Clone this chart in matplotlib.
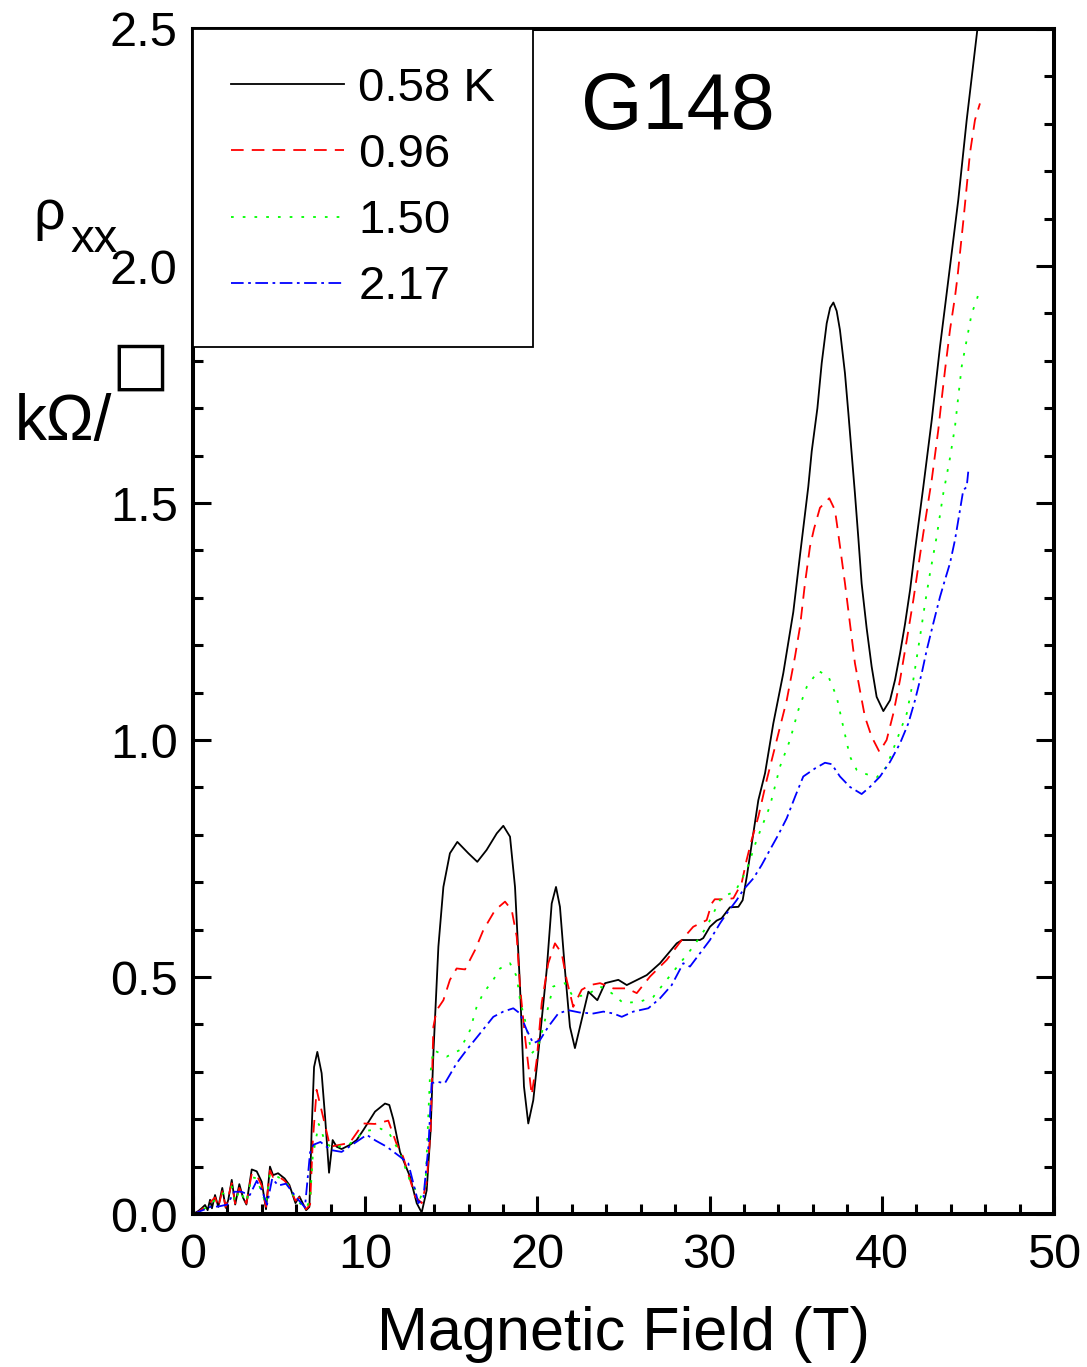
import numpy as np
import matplotlib
matplotlib.use("Agg")
import matplotlib.pyplot as plt

plt.rcParams['font.family'] = ['Liberation Sans', 'DejaVu Sans']

# 0.58 K
t058 = [0.0, 0.3, 0.5, 0.7, 0.85, 0.99, 1.1, 1.28, 1.47, 1.7, 1.9, 2.05, 2.25, 2.45,
        2.69, 2.9, 3.1, 3.41, 3.7, 3.99, 4.24, 4.47, 4.65, 4.94, 5.32, 5.6, 5.95, 6.18,
        6.57, 6.76, 6.89, 7.03, 7.22, 7.47, 7.67, 7.9, 8.11, 8.34, 8.63, 9.12, 9.5, 9.89,
        10.57, 11.15, 11.4, 11.63, 12.02, 12.6, 12.99, 13.28, 13.57, 13.8, 13.96, 14.25,
        14.54, 14.92, 15.35, 15.99, 16.51, 17.05, 17.64, 18.02, 18.41, 18.7, 18.99, 19.22,
        19.47, 19.76, 20.15, 20.54, 20.83, 21.08, 21.31, 21.6, 21.89, 22.18, 22.57, 22.96,
        23.48, 23.93, 24.7, 25.19, 26.35, 27.12, 28.09, 28.4, 29.44, 29.63, 30.02, 30.41,
        30.7, 31.18, 31.67, 31.92, 32.16, 32.54, 32.83, 33.22, 33.7, 34.28, 34.86, 35.25,
        35.73, 35.93, 36.26, 36.51, 36.8, 37.0, 37.19, 37.38, 37.57, 37.86, 38.06, 38.25, 38.44,
        38.64, 38.83, 39.12, 39.41, 39.7, 40.09, 40.48, 40.77, 41.06, 41.35, 41.64, 41.93,
        42.41, 42.9, 43.38, 43.67, 44.44, 44.93, 45.55, 45.65]
r058 = [0.0, 0.006, 0.012, 0.019, 0.008, 0.03, 0.012, 0.04, 0.015, 0.055, 0.013, 0.03, 0.072, 0.02,
        0.063, 0.035, 0.02, 0.094, 0.09, 0.068, 0.01, 0.1, 0.082, 0.086, 0.075, 0.061, 0.023, 0.037,
        0.008, 0.015, 0.177, 0.31, 0.342, 0.297, 0.205, 0.087, 0.156, 0.142, 0.137, 0.146, 0.156, 0.177,
        0.216, 0.233, 0.23, 0.2, 0.131, 0.079, 0.023, 0.003, 0.05, 0.177, 0.339, 0.564,
        0.69, 0.761, 0.785, 0.761, 0.743, 0.768, 0.803, 0.819, 0.796, 0.69, 0.48, 0.269,
        0.191, 0.24, 0.374, 0.515, 0.655, 0.69, 0.648, 0.515, 0.395, 0.35, 0.409, 0.469,
        0.451, 0.487, 0.494, 0.483, 0.504, 0.529, 0.571, 0.578, 0.578, 0.582, 0.606, 0.619,
        0.624, 0.647, 0.648, 0.662, 0.712, 0.803, 0.873, 0.93, 1.035, 1.141, 1.27, 1.39,
        1.534, 1.609, 1.70, 1.795, 1.879, 1.912, 1.923, 1.905, 1.865, 1.774, 1.689, 1.605, 1.52,
        1.425, 1.33, 1.236, 1.155, 1.091, 1.061, 1.084, 1.127, 1.183, 1.245, 1.316, 1.401,
        1.534, 1.675, 1.83, 1.914, 2.139, 2.308, 2.498, 2.53]

# 0.96 K
t096 = [0.0, 0.3, 0.7, 1.0, 1.28, 1.47, 1.7, 1.9, 2.25, 2.45, 2.69, 3.1, 3.41, 3.7, 3.99,
        4.24, 4.47, 4.65, 4.94, 5.32, 5.6, 5.95, 6.18, 6.57, 6.8, 6.95, 7.18, 7.6, 7.96,
        9.1, 9.89, 10.57, 11.34, 11.8, 12.2, 12.9, 13.28, 13.57, 13.8, 13.96, 14.15, 14.54,
        14.92, 15.31, 15.8, 16.38, 16.86, 17.54, 18.12, 18.51, 18.8, 18.99, 19.28, 19.67,
        19.96, 20.25, 20.63, 21.02, 21.41, 21.7, 22.08, 22.57, 23.05, 23.64, 24.41, 25.19,
        25.77, 26.54, 27.51, 28.38, 29.05, 29.83, 30.12, 30.3, 30.89, 31.38, 31.86, 32.15,
        32.44, 32.83, 33.32, 33.9, 34.48, 34.96, 35.25, 35.54, 35.83, 36.06, 36.41, 36.95,
        37.28, 37.47, 37.86, 38.15, 38.44, 38.73, 39.02, 39.41, 39.86, 40.28, 40.67, 41.06,
        41.45, 41.83, 42.12, 42.41, 42.9, 43.28, 43.48, 43.67, 43.96, 44.25, 44.39, 44.74,
        45.12, 45.41, 45.7]
r096 = [0.0, 0.004, 0.015, 0.025, 0.035, 0.015, 0.048, 0.015, 0.065, 0.022, 0.055, 0.022, 0.085, 0.082, 0.06,
        0.015, 0.092, 0.078, 0.08, 0.07, 0.058, 0.028, 0.035, 0.01, 0.02, 0.15, 0.262, 0.198, 0.142,
        0.15, 0.191, 0.19, 0.197, 0.15, 0.121, 0.037, 0.023, 0.068, 0.177, 0.395, 0.43, 0.451,
        0.494, 0.518, 0.516, 0.557, 0.599, 0.641, 0.659, 0.641, 0.585, 0.48, 0.374, 0.251,
        0.325, 0.445, 0.529, 0.571, 0.55, 0.494, 0.437, 0.473, 0.483, 0.487, 0.476, 0.476,
        0.466, 0.501, 0.536, 0.578, 0.606, 0.62, 0.655, 0.664, 0.664, 0.666, 0.698, 0.747,
        0.789, 0.838, 0.916, 1.0, 1.084, 1.176, 1.239, 1.331, 1.408, 1.445, 1.49, 1.51,
        1.485, 1.436, 1.331, 1.246, 1.162, 1.105, 1.049, 1.007, 0.975, 1.0, 1.056, 1.127,
        1.211, 1.295, 1.366, 1.436, 1.549, 1.654, 1.72, 1.78, 1.865, 1.935, 1.975, 2.097,
        2.238, 2.308, 2.343]

# 1.50 K
t150 = [0.0, 0.7, 1.0, 1.28, 1.7, 2.25, 2.45, 2.69, 3.1, 3.41, 3.7, 4.24, 4.47, 4.94, 5.32,
        5.6, 5.95, 6.57, 6.8, 6.95, 7.3, 7.6, 8.0, 9.0, 10.0, 10.9, 11.4, 12.0, 12.6, 13.2,
        13.5, 13.76, 13.96, 14.73, 15.5, 16.09, 16.47, 16.86, 17.44, 17.83, 18.41, 18.8,
        18.99, 19.28, 19.67, 20.05, 20.44, 20.92, 21.6, 22.08, 22.86, 23.64, 24.31, 24.99,
        25.96, 26.73, 27.51, 28.28, 29.05, 29.83, 30.31, 30.7, 31.47, 31.86, 32.25, 32.73,
        33.5, 34.09, 34.67, 35.15, 35.64, 36.31, 36.9, 37.38, 37.76, 38.15, 38.54, 38.93,
        39.7, 40.28, 40.87, 41.45, 41.83, 42.22, 42.51, 42.8, 43.19, 43.57, 43.96, 44.25,
        44.44, 44.64, 44.93, 45.22, 45.51, 45.7]
r150 = [0.0, 0.012, 0.02, 0.03, 0.042, 0.058, 0.025, 0.05, 0.025, 0.078, 0.075, 0.02, 0.085, 0.078, 0.07,
        0.058, 0.03, 0.012, 0.03, 0.12, 0.19, 0.16, 0.14, 0.145, 0.175, 0.18, 0.17, 0.13, 0.07, 0.034,
        0.06, 0.29, 0.346, 0.332, 0.346, 0.388, 0.437, 0.466, 0.494, 0.518, 0.529, 0.501,
        0.451, 0.409, 0.339, 0.353, 0.409, 0.48, 0.487, 0.458, 0.462, 0.48, 0.466, 0.445,
        0.448, 0.458, 0.494, 0.529, 0.564, 0.606, 0.641, 0.669, 0.68, 0.705, 0.736, 0.789,
        0.86, 0.944, 1.0, 1.063, 1.112, 1.146, 1.134, 1.091, 1.028, 0.965, 0.937, 0.93,
        0.921, 0.944, 1.0, 1.056, 1.127, 1.218, 1.288, 1.352, 1.43, 1.52, 1.595, 1.661,
        1.724, 1.788, 1.844, 1.9, 1.928, 1.953]

# 2.17 K
t217 = [0.0, 0.7, 1.0, 1.5, 2.0, 2.4, 2.8, 3.3, 3.7, 4.0, 4.3, 4.6, 4.95, 5.4, 6.0, 6.5,
        6.8, 6.99, 7.4, 8.0, 8.63, 9.4, 10.09, 10.6, 11.25, 12.02, 12.5, 13.09, 13.38, 13.67,
        13.86, 14.15, 14.63, 15.31, 15.89, 16.67, 17.44, 18.02, 18.6, 18.99, 19.38, 19.76,
        20.15, 20.63, 21.21, 21.79, 22.47, 23.25, 23.83, 24.41, 24.9, 25.57, 26.44, 27.12,
        27.8, 28.47, 28.86, 29.44, 30.02, 30.6, 30.99, 31.57, 31.96, 32.54, 33.02, 33.5,
        33.99, 34.48, 34.96, 35.44, 36.12, 36.7, 37.09, 37.57, 38.15, 38.83, 39.31, 39.9,
        40.48, 41.06, 41.54, 41.93, 42.32, 42.61, 42.99, 43.38, 43.67, 43.96, 44.25, 44.54,
        44.73, 44.93, 45.02]
r217 = [0.0, 0.01, 0.015, 0.016, 0.02, 0.047, 0.047, 0.04, 0.07, 0.05, 0.02, 0.075, 0.06, 0.064, 0.035, 0.014,
        0.13, 0.146, 0.152, 0.135, 0.131, 0.15, 0.167, 0.155, 0.142, 0.121, 0.107, 0.023, 0.035, 0.142,
        0.276, 0.279, 0.276, 0.318, 0.346, 0.381, 0.416, 0.427, 0.434, 0.423, 0.388, 0.36,
        0.367, 0.395, 0.423, 0.43, 0.425, 0.423, 0.427, 0.423, 0.416, 0.427, 0.434, 0.455,
        0.483, 0.529, 0.522, 0.55, 0.578, 0.613, 0.634, 0.662, 0.684, 0.708, 0.736, 0.768,
        0.8, 0.835, 0.88, 0.923, 0.94, 0.952, 0.949, 0.923, 0.901, 0.886, 0.901, 0.923,
        0.954, 0.993, 1.035, 1.084, 1.141, 1.19, 1.246, 1.302, 1.338, 1.373, 1.422, 1.485,
        1.527, 1.534, 1.566]

labels = ['0.58 K', '0.96', '1.50', '2.17']

fig = plt.figure(figsize=(10.87, 13.67), dpi=100)
ax = fig.add_axes([193/1087, 1-1214/1367, (1054-193)/1087, (1214-29)/1367])

lw = 1.3
ax.plot(t058, r058, color='black', lw=lw, label=labels[0])
ax.plot(t096, r096, color='red', lw=lw, dashes=(7, 4.5), label=labels[1])
ax.plot(t150, r150, color='#00ff00', lw=lw, dashes=(1.5, 5), label=labels[2])
ax.plot(t217, r217, color='blue', lw=lw, dashes=(7, 2.5, 1.5, 2.5), label=labels[3])

ax.set_xlim(0, 50)
ax.set_ylim(0, 2.5)
ax.set_xticks(np.arange(0, 51, 10))
ax.set_xticks(np.arange(0, 51, 2), minor=True)
ax.set_yticks(np.arange(0, 2.51, 0.5))
ax.set_yticks(np.arange(0, 2.51, 0.1), minor=True)
ax.set_xticklabels(['0', '10', '20', '30', '40', '50'])
ax.set_yticklabels(['0.0', '0.5', '1.0', '1.5', '2.0', '2.5'])

for s in ax.spines.values():
    s.set_linewidth(2.9)
ax.tick_params(which='both', direction='in', left=True, right=True, bottom=True, top=False,
               width=2.2, labelsize=35)
ax.tick_params(which='major', length=13)
ax.tick_params(which='minor', length=7)
ax.tick_params(axis='x', which='major', pad=14)
ax.tick_params(axis='y', which='major', pad=11)

ax.set_xlabel('Magnetic Field (T)', fontsize=44, labelpad=20)

leg = ax.legend(loc='upper left', bbox_to_anchor=(0, 1), borderaxespad=0, fontsize=34,
                frameon=True, fancybox=False, edgecolor='black', framealpha=1,
                handlelength=2.4, handletextpad=0.3, borderpad=0.8, labelspacing=0.47)
leg.get_frame().set_linewidth(1.3)

ax.text(0.451, 0.933, 'G148', transform=ax.transAxes, fontsize=57, ha='left', va='center')

# y label pieces
fig.text(33/1087, 1-229/1367, 'ρ', fontsize=40, ha='left', va='baseline')
fig.text(70/1087, 1-252/1367, 'xx', fontsize=34, ha='left', va='baseline')
fig.text(15/1087, 1-440/1367, 'kΩ/', fontsize=46, ha='left', va='baseline')
fig.text(140.5/1087, 1-367/1367, '□', fontsize=44, ha='center', va='center', family='DejaVu Sans')

fig.savefig('out.png', dpi=100)
